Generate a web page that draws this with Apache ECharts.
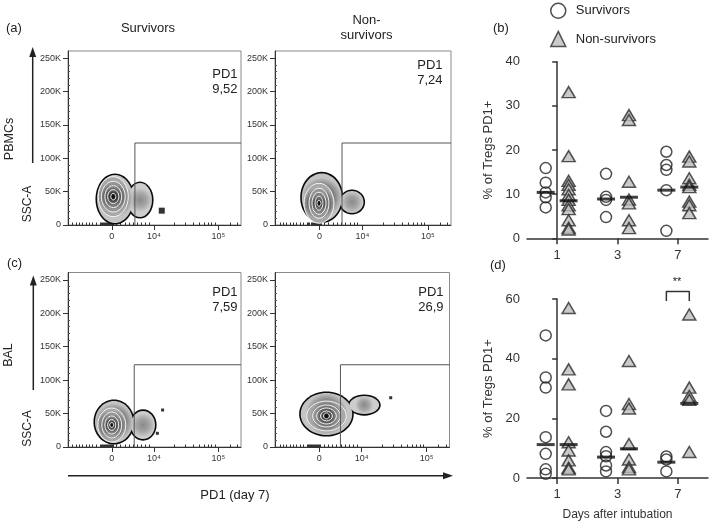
<!DOCTYPE html>
<html><head><meta charset="utf-8">
<script src="https://cdn.jsdelivr.net/npm/echarts@6/dist/echarts.min.js"></script>
<style>html,body{margin:0;padding:0;background:#fff}#c{width:709px;height:522px}</style>
</head><body><div id="c"></div>
<script>
const FONT = "'Liberation Sans', Arial, Helvetica, sans-serif";

// ---------- scatter panels ----------
const days = ['1', '3', '7'];
// (b) PBMCs, % of Tregs PD1+ per day (1,3,7)
const bSurvivors = [[15.9, 12.6, 10.4, 9.3, 7.0], [14.6, 9.4, 8.7, 4.8], [19.6, 16.6, 15.5, 10.9, 1.7]];
const bNonSurvivors = [[33.1, 18.6, 13.0, 12.1, 11.1, 9.8, 8.7, 7.5, 6.6, 4.1, 2.4, 2.0], [27.9, 26.8, 12.8, 8.8, 7.9, 4.1, 2.3], [18.5, 17.4, 13.6, 12.1, 11.6, 8.3, 7.5, 5.7]];
const bSurvMedian = [10.4, 8.9, 10.9];
const bNonMedian = [8.5, 9.3, 11.6];
// (d) BAL
const dSurvivors = [[47.8, 33.7, 30.3, 13.7, 8.1, 2.9, 1.4], [22.5, 15.5, 8.7, 7.3, 4.2, 2.2], [7.2, 6.2, 2.2]];
const dNonSurvivors = [[57.0, 36.4, 31.4, 12.0, 9.2, 5.9, 3.4, 2.9], [39.2, 24.8, 23.3, 11.4, 6.2, 3.7, 2.9], [54.8, 30.3, 27.5, 26.2, 8.7]];
const dSurvMedian = [11.2, 7.0, 5.3];
const dNonMedian = [11.2, 9.8, 25.0];

// ---------- flow panels ----------
const flowXTickValues = [259, 509, 890];
const flowXTickLabels = ['0', '10\u2074', '10\u2075'];
const flowXMinorTicks = [28, 47, 67, 87, 107, 126, 146, 166, 190, 196, 202, 208, 214, 220, 226, 232, 238, 244, 250, 256, 262, 268, 288, 312, 337, 361, 387, 410, 436, 460, 480, 627, 694, 742, 777, 805, 830, 850, 870, 959, 1003];
const flowYTicks = [0, 50, 100, 150, 200, 250];
const flowYMinorTicks = [10, 20, 30, 40, 60, 70, 80, 90, 110, 120, 130, 140, 160, 170, 180, 190, 210, 220, 230, 240];
const pd1Values = ['9,52', '7,24', '7,59', '26,9'];
// gates [x start channel, y top (K)]
const gates = [[396, 123], [390, 123], [392, 123], [384, 123]];
// density outline ellipses [cx, cy, rx, ry] (channel, K): body, tail
const blobOuter = [
  [[278, 39, 106, 36], [426, 37.5, 71, 25.5]],
  [[272, 41.3, 116, 36], [448, 34.5, 67, 16.5]],
  [[272, 37.4, 112, 31.4], [444, 32.9, 71, 21]],
  [[302, 49.4, 151, 31.4], [524, 62.8, 87, 13.5]]
];
const blobRings = [
  [[268, 42.5, 89, 30], [268, 42.5, 71, 23], [268, 42.5, 50, 16.5], [268, 42.5, 33, 10.5], [268, 42.5, 15, 5]],
  [[256, 32.6, 87, 30], [256, 32.6, 58, 22.5], [256, 32.6, 41, 16.5], [256, 32.6, 23, 10.5], [256, 32.6, 12, 4.5]],
  [[259, 32.9, 83, 25.4], [259, 32.9, 59, 19.4], [259, 32.9, 41, 13.5], [259, 32.9, 24, 8.2], [259, 32.9, 12, 3.7]],
  [[302, 46.4, 116, 22.4], [302, 46.4, 81, 16.5], [302, 46.4, 58, 12], [302, 46.4, 35, 7.5], [302, 46.4, 17, 4.5]]
];
const outlierDots = [[[555, 21.5]], [], [[560, 55.3], [529, 20.5]], [[679, 73.7]]];

// ---------- layout ----------
const flowGrids = [
  {left: 68, top: 51, width: 173, height: 174},
  {left: 275, top: 51, width: 176, height: 174},
  {left: 68, top: 272.5, width: 173, height: 174.5},
  {left: 275, top: 272.5, width: 174.5, height: 174.5}
];
const grids = flowGrids.map(g => Object.assign({show: true, borderColor: '#8a8a8a', borderWidth: 1, backgroundColor: 'transparent'}, g));
grids.push({left: 527, top: 61.7, width: 181, height: 176.6});
grids.push({left: 527, top: 299, width: 181, height: 180.3});

const xAxes = [], yAxes = [], series = [];
const ringFills = [['#2a2a2a', '#4a4a4a', '#a8a8a8'], ['#222', '#3e3e3e', '#959595'], ['#1a1a1a', '#333', '#828282'], ['#111', '#2a2a2a', '#6a6a6a'], ['#080808', '#1a1a1a', '#404040']];
const outerFills = [['#3a3a3a', '#707070', '#c4c4c4'], ['#8a8a8a', '#a5a5a5', '#cdcdcd']];

function radial(c0, c1, c2) {
  return {type: 'radial', x: 0.5, y: 0.5, r: 0.5, colorStops: [{offset: 0, color: c0}, {offset: 0.55, color: c1}, {offset: 1, color: c2}]};
}

flowGrids.forEach((g, p) => {
  xAxes.push({gridIndex: p, type: 'value', min: 0, max: 1024,
    axisLine: {show: true, lineStyle: {color: '#333', width: 1}},
    axisTick: {show: true, customValues: flowXTickValues, length: 5, lineStyle: {color: '#333'}},
    axisLabel: {show: true, customValues: flowXTickValues, formatter: v => flowXTickLabels[flowXTickValues.indexOf(v)] || '', fontSize: 9, color: '#333', fontFamily: FONT, margin: 7},
    splitLine: {show: false}});
  xAxes.push({gridIndex: p, type: 'value', min: 0, max: 1024,
    axisLine: {show: false},
    axisTick: {show: true, customValues: flowXMinorTicks, length: 2.5, lineStyle: {color: '#333'}},
    axisLabel: {show: false}, splitLine: {show: false}});
});
flowGrids.forEach((g, p) => {
  yAxes.push({gridIndex: p, type: 'value', min: 0, max: 261,
    axisLine: {show: true, lineStyle: {color: '#333', width: 1}},
    axisTick: {show: true, customValues: flowYTicks, length: 5, lineStyle: {color: '#333'}},
    axisLabel: {show: true, customValues: flowYTicks, formatter: v => v === 0 ? '0' : v + 'K', fontSize: 9, color: '#333', fontFamily: FONT, margin: 7},
    splitLine: {show: false}});
});
flowGrids.forEach((g, p) => {
  yAxes.push({gridIndex: p, type: 'value', min: 0, max: 261,
    axisLine: {show: false},
    axisTick: {show: true, customValues: flowYMinorTicks, length: 2, lineStyle: {color: '#555'}},
    axisLabel: {show: false}, splitLine: {show: false}});
});

// scatter panel axes
[4, 5].forEach((gi, k) => {
  xAxes.push({gridIndex: gi, type: 'category', data: days, boundaryGap: true,
    axisLine: {show: true, lineStyle: {color: '#333', width: 1.5}},
    axisTick: {show: true, alignWithLabel: true, length: 6, lineStyle: {color: '#333', width: 1.5}},
    axisLabel: {fontSize: 13, color: '#333', fontFamily: FONT, margin: k === 0 ? 11 : 10},
    name: k === 1 ? 'Days after intubation' : '', nameLocation: 'middle', nameGap: 31,
    nameTextStyle: {fontSize: 12, color: '#333', fontFamily: FONT}});
  xAxes.push({gridIndex: gi, type: 'value', min: -0.5, max: 2.5, show: false});
});
yAxes.push({gridIndex: 4, type: 'value', min: 0, max: 40, interval: 10,
  axisLine: {show: true, lineStyle: {color: '#333', width: 1.5}},
  axisTick: {show: true, length: 5, lineStyle: {color: '#333', width: 1.5}},
  axisLabel: {fontSize: 13, color: '#333', fontFamily: FONT, margin: 7},
  splitLine: {show: false},
  name: '% of Tregs PD1+', nameLocation: 'middle', nameGap: 32, nameRotate: 90,
  nameTextStyle: {fontSize: 13, color: '#333', fontFamily: FONT}});
yAxes.push({gridIndex: 5, type: 'value', min: 0, max: 60, interval: 20,
  axisLine: {show: true, lineStyle: {color: '#333', width: 1.5}},
  axisTick: {show: true, length: 5, lineStyle: {color: '#333', width: 1.5}},
  axisLabel: {fontSize: 13, color: '#333', fontFamily: FONT, margin: 7},
  splitLine: {show: false},
  name: '% of Tregs PD1+', nameLocation: 'middle', nameGap: 32, nameRotate: 90,
  nameTextStyle: {fontSize: 13, color: '#333', fontFamily: FONT}});

// flow series
flowGrids.forEach((g, p) => {
  const xi = 2 * p, yi = p;
  const ellipseShape = (api, idx, grow) => {
    const c = api.coord([api.value(0, idx), api.value(1, idx)]);
    const s = api.size([api.value(2, idx), api.value(3, idx)]);
    return {cx: c[0], cy: c[1], rx: s[0] + grow, ry: s[1] + grow};
  };
  // union outline: black halos first, then gradient fills, in one group
  series.push({type: 'custom', xAxisIndex: xi, yAxisIndex: yi, z: 2, silent: true, data: blobOuter[p],
    renderItem: (params, api) => {
      if (params.dataIndex !== 0) return null;
      const n = blobOuter[p].length, children = [];
      for (let i = 0; i < n; i++) children.push({type: 'ellipse', shape: ellipseShape(api, i, 1.6), style: {fill: '#0a0a0a'}});
      for (let i = n - 1; i >= 0; i--) {
        const f = outerFills[Math.min(i, outerFills.length - 1)];
        children.push({type: 'ellipse', shape: ellipseShape(api, i, 0), style: {fill: radial(f[0], f[1], f[2])}});
      }
      return {type: 'group', children: children};
    }});
  series.push({type: 'custom', xAxisIndex: xi, yAxisIndex: yi, z: 4, silent: true, data: blobRings[p],
    renderItem: (params, api) => {
      const f = ringFills[Math.min(params.dataIndex, ringFills.length - 1)];
      return {type: 'ellipse', shape: ellipseShape(api, params.dataIndexInside, 0), style: {fill: radial(f[0], f[1], f[2]), stroke: '#f4f4f4', lineWidth: 1}};
    }});
  series.push({type: 'scatter', xAxisIndex: xi, yAxisIndex: yi, z: 5, silent: true, data: outlierDots[p],
    symbol: 'rect', symbolSize: p === 0 ? 6 : 3, itemStyle: {color: '#000'}});
  const gt = gates[p];
  series.push({type: 'line', xAxisIndex: xi, yAxisIndex: yi, z: 6, silent: true, symbol: 'none',
    data: [[gt[0], 0], [gt[0], gt[1]], [1024, gt[1]]], lineStyle: {color: '#555', width: 1}});
});

// scatter series
function pts(groups, off) { const out = []; groups.forEach((g, i) => g.forEach(v => out.push([i + off, v]))); return out; }
function meds(arr, off) { return arr.map((v, i) => [i + off, v]); }
const OFF = 0.19;
const circleStyle = {color: 'rgba(255,255,255,0)', borderColor: '#222', borderWidth: 1.5};
const triStyle = {color: '#bdbdbd', borderColor: '#2a2a2a', borderWidth: 1.5};
[[8, 9, 8, bSurvivors, bNonSurvivors, bSurvMedian, bNonMedian], [10, 11, 9, dSurvivors, dNonSurvivors, dSurvMedian, dNonMedian]].forEach(cfg => {
  const [cx, vx, yi, s, n, sm, nm] = cfg;
  series.push({name: 'Survivors', type: 'scatter', xAxisIndex: vx, yAxisIndex: yi, z: 5, symbol: 'circle', symbolSize: 11, data: pts(s, -OFF), itemStyle: circleStyle});
  series.push({name: 'Non-survivors', type: 'scatter', xAxisIndex: vx, yAxisIndex: yi, z: 5, symbol: 'triangle', symbolSize: [13, 11], data: pts(n, OFF), itemStyle: triStyle});
  series.push({name: 'medS', type: 'scatter', xAxisIndex: vx, yAxisIndex: yi, z: 7, symbol: 'rect', symbolSize: [18, 3], data: meds(sm, -OFF), itemStyle: {color: '#111'}});
  series.push({name: 'medN', type: 'scatter', xAxisIndex: vx, yAxisIndex: yi, z: 7, symbol: 'rect', symbolSize: [18, 3], data: meds(nm, OFF), itemStyle: {color: '#111'}});
});
// significance bracket on (d), day 7
series.push({type: 'line', xAxisIndex: 11, yAxisIndex: 9, clip: false, symbol: 'none', silent: true,
  data: [[2 - OFF, 59.3], [2 - OFF, 62.5], [2 + OFF, 62.5], [2 + OFF, 59.3]], lineStyle: {color: '#333', width: 1.5}});

// ---------- text & arrows ----------
const txt = (x, y, text, size, extra) => Object.assign({type: 'text', x: x, y: y, silent: true,
  style: Object.assign({text: text, fill: '#222', font: size + 'px ' + FONT, align: 'center', verticalAlign: 'middle'}, (extra && extra.style) || {})},
  extra && extra.rotation ? {rotation: extra.rotation} : {});
const R = Math.PI / 2;
const graphics = [
  txt(6, 28.3, '(a)', 13, {style: {align: 'left'}}),
  txt(7, 263.3, '(c)', 13, {style: {align: 'left'}}),
  txt(493, 28.3, '(b)', 13, {style: {align: 'left'}}),
  txt(490, 265, '(d)', 13, {style: {align: 'left'}}),
  txt(148, 28.3, 'Survivors', 13),
  txt(366.5, 20.7, 'Non-', 13),
  txt(366.5, 35, 'survivors', 13),
  txt(237.5, 74, 'PD1', 13, {style: {align: 'right'}}),
  txt(237.5, 89.5, pd1Values[0], 13, {style: {align: 'right'}}),
  txt(442.5, 65, 'PD1', 13, {style: {align: 'right'}}),
  txt(442.5, 80.5, pd1Values[1], 13, {style: {align: 'right'}}),
  txt(237.5, 292.3, 'PD1', 13, {style: {align: 'right'}}),
  txt(237.5, 307.5, pd1Values[2], 13, {style: {align: 'right'}}),
  txt(443.5, 292.3, 'PD1', 13, {style: {align: 'right'}}),
  txt(443.5, 307.5, pd1Values[3], 13, {style: {align: 'right'}}),
  txt(9.5, 139, 'PBMCs', 12.5, {rotation: R}),
  txt(28, 204, 'SSC-A', 12, {rotation: R}),
  txt(8.5, 355, 'BAL', 12.5, {rotation: R}),
  txt(28, 428.5, 'SSC-A', 12, {rotation: R}),
  txt(235, 495, 'PD1 (day 7)', 13),
  txt(677, 282, '**', 11),
  {type: 'line', silent: true, shape: {x1: 32.7, y1: 163, x2: 32.7, y2: 56}, style: {stroke: '#222', lineWidth: 1.5}},
  {type: 'polygon', silent: true, shape: {points: [[32.7, 47], [29.2, 57], [36.2, 57]]}, style: {fill: '#222'}},
  {type: 'line', silent: true, shape: {x1: 33.3, y1: 390, x2: 33.3, y2: 285}, style: {stroke: '#222', lineWidth: 1.5}},
  {type: 'polygon', silent: true, shape: {points: [[33.3, 275.5], [29.8, 285.5], [36.8, 285.5]]}, style: {fill: '#222'}},
  {type: 'line', silent: true, shape: {x1: 68, y1: 475.7, x2: 444, y2: 475.7}, style: {stroke: '#222', lineWidth: 1.5}},
  {type: 'polygon', silent: true, shape: {points: [[453, 475.7], [443, 472.2], [443, 479.2]]}, style: {fill: '#222'}}
];

const chart = echarts.init(document.getElementById('c'), null, {renderer: 'canvas'});
chart.setOption({
  animation: false,
  backgroundColor: '#fff',
  grid: grids,
  xAxis: xAxes,
  yAxis: yAxes,
  legend: {
    orient: 'vertical', left: 545, top: -2.5, padding: 5, itemGap: 11.7, itemWidth: 15, itemHeight: 15,
    textStyle: {fontSize: 13, color: '#222', fontFamily: FONT, padding: [0, 0, 0, 5]},
    selectedMode: false,
    data: [
      {name: 'Survivors', icon: 'circle', itemStyle: {color: '#fff', borderColor: '#222', borderWidth: 1.5}},
      {name: 'Non-survivors', icon: 'triangle', itemStyle: {color: '#bdbdbd', borderColor: '#2a2a2a', borderWidth: 1.5}}
    ]
  },
  graphic: graphics,
  series: series
});
</script>
</body></html>
